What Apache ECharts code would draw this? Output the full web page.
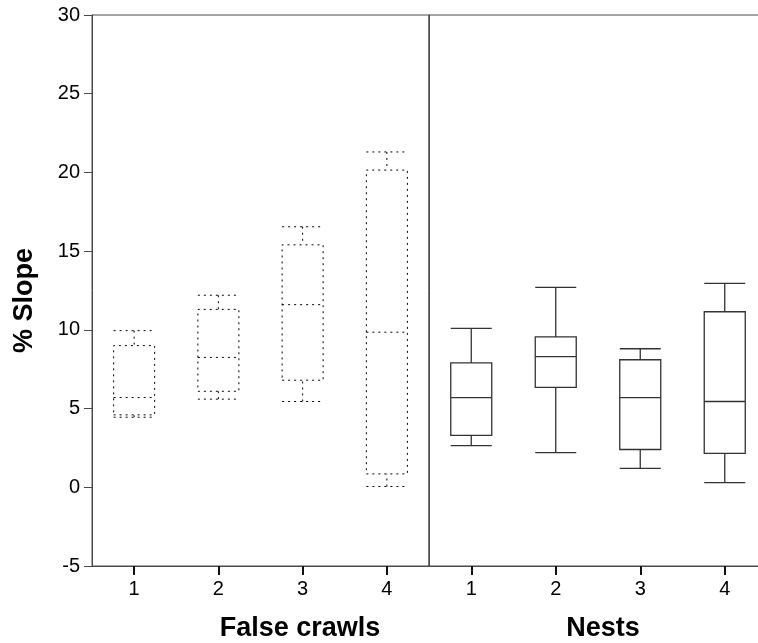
<!DOCTYPE html>
<html>
<head>
<meta charset="utf-8">
<script src="https://cdn.jsdelivr.net/npm/echarts@6/dist/echarts.min.js"></script>
<style>html,body{margin:0;padding:0;background:#fff}#c{width:758px;height:643px}</style>
</head>
<body>
<div id="c"></div>
<script>
// Categories
const categories = ['1', '2', '3', '4'];
// Box data: [min, Q1, median, Q3, max]
const falseCrawls = [
  [4.45, 4.6, 5.7, 9.0, 9.95],
  [5.6, 6.1, 8.25, 11.3, 12.2],
  [5.45, 6.8, 11.6, 15.4, 16.55],
  [0.05, 0.85, 9.85, 20.15, 21.3]
];
const nests = [
  [2.65, 3.3, 5.7, 7.9, 10.1],
  [2.2, 6.35, 8.3, 9.55, 12.7],
  [1.2, 2.4, 5.7, 8.1, 8.8],
  [0.3, 2.15, 5.45, 11.15, 12.95]
];
const yTicks = { min: -5, max: 30, interval: 5 };
const panelNames = ['False crawls', 'Nests'];
const yTitle = '% Slope';

const chart = echarts.init(document.getElementById('c'), null, { renderer: 'canvas' });
const font = 'Liberation Sans, Arial, sans-serif';
const axisColor = '#4a4a4a';

function xAxisFor(idx, name, pad) {
  return {
    type: 'category', gridIndex: idx, data: categories,
    name: name, nameLocation: 'middle', nameGap: 49,
    nameTextStyle: { fontFamily: font, fontSize: 27, fontWeight: 'bold', color: '#000', padding: [0, 0, 0, pad] },
    axisLine: { show: true, onZero: false, lineStyle: { color: axisColor, width: 1 } },
    axisTick: { show: true, alignWithLabel: true, length: 9, lineStyle: { color: '#111', width: 2 } },
    axisLabel: { fontFamily: font, fontSize: 20, color: '#000', margin: 13 },
    splitLine: { show: false }
  };
}

chart.setOption({
  animation: false,
  backgroundColor: '#fff',
  grid: [
    { left: 92, top: 15, width: 337, height: 551, show: true, borderColor: axisColor, borderWidth: 1, backgroundColor: 'transparent', outerBoundsMode: 'none', containLabel: false },
    { left: 429, top: 15, width: 338, height: 551, show: true, borderColor: axisColor, borderWidth: 1, backgroundColor: 'transparent', outerBoundsMode: 'none', containLabel: false }
  ],
  xAxis: [xAxisFor(0, panelNames[0], 79), xAxisFor(1, panelNames[1], 10)],
  yAxis: [
    {
      type: 'value', gridIndex: 0, min: yTicks.min, max: yTicks.max, interval: yTicks.interval,
      name: yTitle, nameLocation: 'middle', nameGap: 54,
      nameTextStyle: { fontFamily: font, fontSize: 27, fontWeight: 'bold', color: '#000', padding: [0, 20, 0, 0] },
      axisLine: { show: true, onZero: false, lineStyle: { color: axisColor, width: 1 } },
      axisTick: { show: true, length: 8, lineStyle: { color: axisColor, width: 1 } },
      axisLabel: { fontFamily: font, fontSize: 20, color: '#000', margin: 12 },
      splitLine: { show: false }
    },
    {
      type: 'value', gridIndex: 1, min: yTicks.min, max: yTicks.max, interval: yTicks.interval,
      axisLine: { show: true, onZero: false, lineStyle: { color: axisColor, width: 1 } },
      axisTick: { show: false }, axisLabel: { show: false }, splitLine: { show: false }
    }
  ],
  series: [
    {
      type: 'boxplot', name: 'False crawls', xAxisIndex: 0, yAxisIndex: 0,
      data: falseCrawls, boxWidth: [41, 41],
      itemStyle: { color: 'transparent', borderColor: '#000', borderWidth: 1, borderType: [2, 4] },
      emphasis: { disabled: true }
    },
    {
      type: 'boxplot', name: 'Nests', xAxisIndex: 1, yAxisIndex: 1,
      data: nests, boxWidth: [41, 41],
      itemStyle: { color: 'transparent', borderColor: '#333', borderWidth: 1.3 },
      emphasis: { disabled: true }
    }
  ]
});
</script>
</body>
</html>
